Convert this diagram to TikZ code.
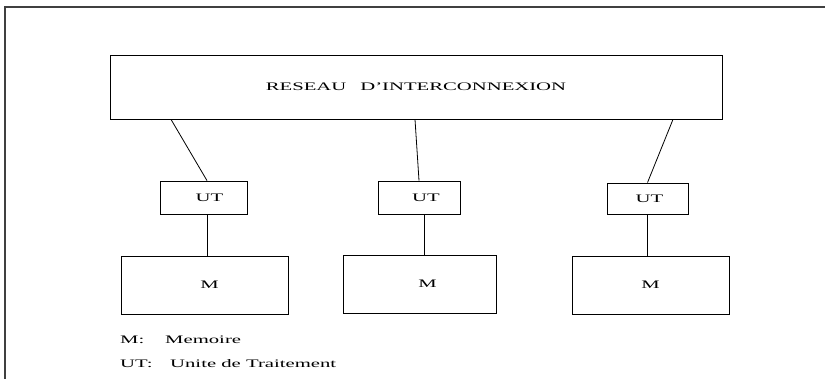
\documentclass[tikz,border=0pt]{standalone}
\usepackage{fontspec}
\setmainfont{Liberation Serif}[FakeStretch=1.8]
\usetikzlibrary{calc}

\begin{document}
\begin{tikzpicture}[x=1pt,y=-1pt,
  bloc/.style={draw,line width=0.8pt,inner sep=0pt,font=\fontsize{11.5}{13}\selectfont},
  lien/.style={line width=0.8pt},
  legende/.style={anchor=west,inner sep=0pt,font=\fontsize{11.5}{13}\selectfont}]
\clip (0,0) rectangle (825,379);
\draw[line width=1.5pt,black!75] (5,7) rectangle (840,395);
% reseau
\node[bloc,minimum width=612pt,minimum height=64pt] (reseau) at (416,87) {RESEAU\hspace{14pt}D'INTERCONNEXION};
% unites de traitement
\node[bloc,minimum width=87pt,minimum height=33pt] (ut1) at (203.5,197.5) {\hspace{12pt}UT};
\node[bloc,minimum width=82pt,minimum height=33pt] (ut2) at (419,197.5) {\hspace{14pt}UT};
\node[bloc,minimum width=81pt,minimum height=31pt] (ut3) at (647.5,198.5) {\hspace{4pt}UT};
% memoires
\node[bloc,minimum width=167pt,minimum height=58pt] (m1) at (204.5,285) {\hspace{10pt}M};
\node[bloc,minimum width=153pt,minimum height=58pt] (m2) at (419.5,284) {\hspace{16pt}M};
\node[bloc,minimum width=157pt,minimum height=58pt] (m3) at (650.5,285) {M};
% liens
\draw[lien] ([xshift=-245pt]reseau.south) -- ([xshift=3.5pt]ut1.north);
\draw[lien] ([xshift=-1pt]reseau.south) -- (ut2.north);
\draw[lien] ([xshift=257pt]reseau.south) -- (ut3.north);
\draw[lien] ([xshift=3.5pt]ut1.south) -- ([xshift=3.5pt]ut1.south |- m1.north);
\draw[lien] ([xshift=5pt]ut2.south) -- ([xshift=5pt]ut2.south |- m2.north);
\draw[lien] (ut3.south) -- (ut3.south |- m3.north);
% legende
\node[legende] (lm) at (120,340) {M:};
\node[legende] (lmem) at (165,340) {Memoire};
\node[legende] (lut) at (120,364) {UT:};
\node[legende] (ltrait) at (170,364) {Unite de Traitement};
\end{tikzpicture}
\end{document}
